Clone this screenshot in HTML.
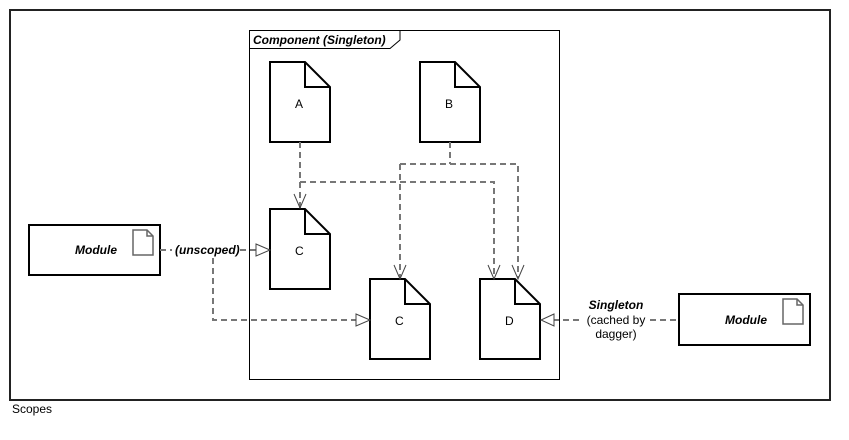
<!DOCTYPE html>
<html><head><style>
html,body{margin:0;padding:0;background:#fff;}
svg text{font-family:"Liberation Sans",Arial,sans-serif;font-size:12px;fill:#000;}
</style></head><body>
<svg width="849" height="435" viewBox="0 0 849 435" xmlns="http://www.w3.org/2000/svg">
<rect x="10" y="10" width="820" height="390" fill="#fff" stroke="#222" stroke-width="2"/>
<text x="12" y="413">Scopes</text>
<!-- component frame -->
<rect x="249.5" y="30.5" width="310" height="349" fill="none" stroke="#000" stroke-width="1"/>
<path d="M249.5 48.5 H390 L400 40 V30.5" fill="none" stroke="#000"/>
<text x="253" y="44" font-weight="bold" font-style="italic">Component (Singleton)</text>
<!-- docs -->
<g fill="#fff" stroke="#000" stroke-width="2">
<path d="M270 62 H305 L330 87 V142 H270 Z"/><path d="M305 62 V87 H330" fill="none"/>
<path d="M420 62 H455 L480 87 V142 H420 Z"/><path d="M455 62 V87 H480" fill="none"/>
<path d="M270 209 H305 L330 234 V289 H270 Z"/><path d="M305 209 V234 H330" fill="none"/>
<path d="M370 279 H405 L430 304 V359 H370 Z"/><path d="M405 279 V304 H430" fill="none"/>
<path d="M480 279 H515 L540 304 V359 H480 Z"/><path d="M515 279 V304 H540" fill="none"/>
<rect x="29" y="225" width="131" height="50"/>
<rect x="679" y="294" width="131" height="51"/>
</g>
<g font-size="12">
<text x="295" y="108">A</text><text x="445" y="108">B</text>
<text x="295" y="255">C</text><text x="395" y="325">C</text><text x="505" y="325">D</text>
<text x="75" y="254" font-weight="bold" font-style="italic">Module</text>
<text x="725" y="324" font-weight="bold" font-style="italic">Module</text>
</g>
<!-- module icons -->
<g fill="#fff" stroke="#666" stroke-width="1.5">
<path d="M133 230 H147 L153 236 V255 H133 Z"/><path d="M147 230 V236 H153" fill="none"/>
<path d="M783 299 H797 L803 305 V324 H783 Z"/><path d="M797 299 V305 H803" fill="none"/>
</g>
<!-- dashed connectors -->
<g fill="none" stroke="#777" stroke-width="2" stroke-dasharray="6,4">
<path d="M300 142 V208"/>
<path d="M300 182 H494 V278"/>
<path d="M450 142 V164"/>
<path d="M400 164 H518 V278"/>
<path d="M400 164 V278"/>
<path d="M160 250 H172"/>
<path d="M240 250 H256"/>
<path d="M213 258 V320 H356"/>
<path d="M553 320 H583"/>
<path d="M650 320 H679"/>
</g>
<!-- open arrowheads -->
<g fill="none" stroke="#444" stroke-width="1">
<path d="M294 194 L300 208 L306 194"/>
<path d="M394 265 L400 279 L406 265"/>
<path d="M488 265 L494 279 L500 265"/>
<path d="M512 265 L518 279 L524 265"/>
</g>
<g fill="#fff" stroke="#444" stroke-width="1">
<path d="M256 244 L270 250 L256 256 Z"/>
<path d="M356 314 L370 320 L356 326 Z"/>
<path d="M554 314 L541 320 L554 326 Z"/>
</g>
<text x="175" y="254" font-weight="bold" font-style="italic">(unscoped)</text>
<g text-anchor="middle">
<text x="616" y="309" font-weight="bold" font-style="italic">Singleton</text>
<text x="616" y="324">(cached by</text>
<text x="616" y="338">dagger)</text>
</g>
</svg>
</body></html>
